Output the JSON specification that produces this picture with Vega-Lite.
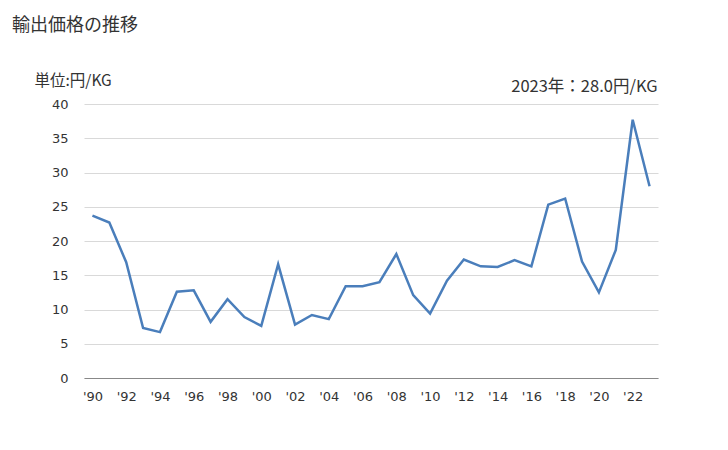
{
  "$schema": "https://vega.github.io/schema/vega-lite/v6.json",
  "autosize": "none",
  "width": 574,
  "height": 274,
  "padding": {"left": 84, "top": 104, "right": 70, "bottom": 72},
  "background": "white",
  "config": {
    "view": {"stroke": null},
    "font": "Noto Sans CJK JP"
  },
  "title": {
    "text": "輸出価格の推移",
    "anchor": "start",
    "frame": "group",
    "dx": -72,
    "offset": 38,
    "fontSize": 18,
    "fontWeight": "normal",
    "color": "#333333",
    "font": "Noto Sans CJK JP"
  },
  "data": {
    "values": [
      {"year": 1990, "value": 23.7},
      {"year": 1991, "value": 22.7},
      {"year": 1992, "value": 16.9},
      {"year": 1993, "value": 7.3},
      {"year": 1994, "value": 6.7},
      {"year": 1995, "value": 12.6},
      {"year": 1996, "value": 12.8},
      {"year": 1997, "value": 8.2},
      {"year": 1998, "value": 11.5},
      {"year": 1999, "value": 8.9},
      {"year": 2000, "value": 7.6},
      {"year": 2001, "value": 16.6},
      {"year": 2002, "value": 7.8},
      {"year": 2003, "value": 9.2},
      {"year": 2004, "value": 8.6},
      {"year": 2005, "value": 13.4},
      {"year": 2006, "value": 13.4},
      {"year": 2007, "value": 14.0},
      {"year": 2008, "value": 18.1},
      {"year": 2009, "value": 12.1},
      {"year": 2010, "value": 9.4},
      {"year": 2011, "value": 14.2},
      {"year": 2012, "value": 17.3},
      {"year": 2013, "value": 16.3},
      {"year": 2014, "value": 16.2},
      {"year": 2015, "value": 17.2},
      {"year": 2016, "value": 16.3},
      {"year": 2017, "value": 25.3},
      {"year": 2018, "value": 26.2},
      {"year": 2019, "value": 17.0},
      {"year": 2020, "value": 12.5},
      {"year": 2021, "value": 18.7},
      {"year": 2022, "value": 37.7},
      {"year": 2023, "value": 28.0}
    ]
  },
  "layer": [
    {
      "mark": {"type": "line", "color": "#4a7ebb", "strokeWidth": 2.5},
      "encoding": {
        "x": {
          "field": "year",
          "type": "ordinal",
          "scale": {"type": "point", "padding": 0.5},
          "axis": {
            "values": [1990,1992,1994,1996,1998,2000,2002,2004,2006,2008,2010,2012,2014,2016,2018,2020,2022],
            "labelExpr": "\"'\" + substring(toString(datum.value), 2, 4)",
            "labelAngle": 0,
            "ticks": false,
            "domainColor": "#888888",
            "domainWidth": 1,
            "labelFontSize": 13,
            "labelColor": "#333333",
            "labelPadding": 12,
            "labelFont": "DejaVu Sans",
            "grid": false,
            "title": null
          }
        },
        "y": {
          "field": "value",
          "type": "quantitative",
          "scale": {"domain": [0, 40]},
          "axis": {
            "values": [0,5,10,15,20,25,30,35,40],
            "labelOverlap": false,
            "ticks": false,
            "domain": false,
            "grid": true,
            "gridColor": "#d9d9d9",
            "labelFontSize": 13,
            "labelColor": "#333333",
            "labelPadding": 16,
            "labelFont": "DejaVu Sans",
            "title": "単位:円/KG",
            "titleAngle": 0,
            "titleAlign": "left",
            "titleBaseline": "middle",
            "titleX": -50,
            "titleY": -24,
            "titleFontSize": 15.5,
            "titleFontWeight": "normal",
            "titleColor": "#333333",
            "titleFont": "Noto Sans CJK JP"
          }
        }
      }
    },
    {
      "data": {"values": [{"label": "2023年：28.0円/KG"}]},
      "mark": {"type": "text", "align": "right", "baseline": "middle", "dx": 8, "dy": -17, "fontSize": 16.5, "color": "#333333", "font": "Noto Sans CJK JP"},
      "encoding": {
        "x": {
          "datum": 2023,
          "type": "ordinal",
          "axis": {
            "values": [1990,1992,1994,1996,1998,2000,2002,2004,2006,2008,2010,2012,2014,2016,2018,2020,2022],
            "labelExpr": "\"'\" + substring(toString(datum.value), 2, 4)",
            "labelAngle": 0,
            "ticks": false,
            "domainColor": "#888888",
            "domainWidth": 1,
            "labelFontSize": 13,
            "labelColor": "#333333",
            "labelPadding": 12,
            "labelFont": "DejaVu Sans",
            "grid": false,
            "title": null
          }
        },
        "y": {
          "datum": 40,
          "type": "quantitative",
          "axis": {
            "values": [0,5,10,15,20,25,30,35,40],
            "labelOverlap": false,
            "ticks": false,
            "domain": false,
            "grid": true,
            "gridColor": "#d9d9d9",
            "labelFontSize": 13,
            "labelColor": "#333333",
            "labelPadding": 16,
            "labelFont": "DejaVu Sans",
            "title": "単位:円/KG",
            "titleAngle": 0,
            "titleAlign": "left",
            "titleBaseline": "middle",
            "titleX": -50,
            "titleY": -24,
            "titleFontSize": 15.5,
            "titleFontWeight": "normal",
            "titleColor": "#333333",
            "titleFont": "Noto Sans CJK JP"
          }
        },
        "text": {"field": "label"}
      }
    }
  ]
}
